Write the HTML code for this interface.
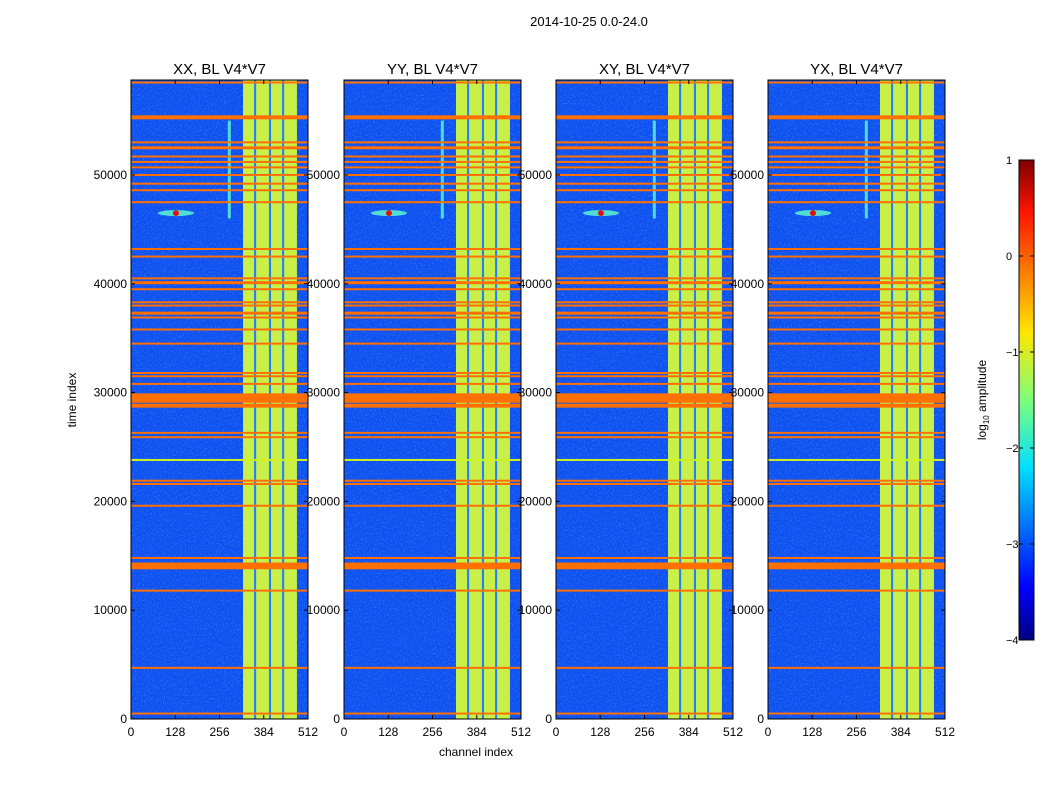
<!DOCTYPE html>
<html><head><meta charset="utf-8"><style>
body{margin:0;background:#fff;font-family:"Liberation Sans",sans-serif}
svg text{font-family:"Liberation Sans",sans-serif}
</style></head><body>
<svg id="chart" width="1050" height="800" xmlns="http://www.w3.org/2000/svg">
<defs>
<filter id="noise" x="0" y="0" width="100%" height="100%">
<feTurbulence type="fractalNoise" baseFrequency="0.9 0.6" numOctaves="2" seed="3"/>
<feColorMatrix type="matrix" values="0 0 0 0 0.1  0 0 0 0 0.7  0 0 0 0 1  0 0 0 1.6 -0.85"/>
<feComposite in2="SourceGraphic" operator="in"/>
</filter>
<linearGradient id="jet" x1="0" y1="1" x2="0" y2="0">
<stop offset="0" stop-color="#00007f"/><stop offset="0.11" stop-color="#0000ff"/>
<stop offset="0.36" stop-color="#00e0ff"/><stop offset="0.5" stop-color="#7dff7a"/>
<stop offset="0.64" stop-color="#ffe600"/><stop offset="0.89" stop-color="#ff1500"/>
<stop offset="1" stop-color="#7f0000"/></linearGradient>
</defs>
<text x="589" y="26" font-size="13" text-anchor="middle">2014-10-25 0.0-24.0</text>
<g id="panels"></g>
<text x="76" y="400" font-size="12" text-anchor="middle" transform="rotate(-90 76 400)">time index</text>
<text x="476" y="756" font-size="12" text-anchor="middle">channel index</text>
<g>
<rect x="1019" y="160" width="15" height="480" fill="url(#jet)" stroke="#000" stroke-width="1"/>
<g id="cbticks"></g>
<text x="986" y="400" font-size="12" text-anchor="middle" transform="rotate(-90 986 400)">log<tspan font-size="8" dy="3">10</tspan><tspan dy="-3"> amplitude</tspan></text>
</g>
</svg>
<script>
const titles=["XX, BL V4*V7","YY, BL V4*V7","XY, BL V4*V7","YX, BL V4*V7"];
const xTicks=[0,128,256,384,512];
const yTicks=[0,10000,20000,30000,40000,50000];
const rfiTimes=[500,4700,11800,13900,14200,14800,19600,21600,21900,25900,26300,28800,29300,29700,30800,31500,31800,34500,35800,36900,37300,38000,38300,39500,40100,40500,42500,43200,47500,48600,49200,50000,50700,51200,51700,52500,53000,55300,58500];
const rfiWidths=[2,2,2,3,4,2,2,2,2,2,2,4,5,5,2,2,2,2,2,2,3,2,2,2,3,2,2,2,2,2,2,2,2,2,2,3,2,4,2];
const bandStarts=[324,362,405,443];
const bandEnds=[356,399,437,480];
const cbTicks=[1,0,-1,-2,-3,-4];
(function(){
const panelX=[131,344,556,768], W=177, pTop=80, pBottom=719, tMax=58730;
const NS="http://www.w3.org/2000/svg";
function el(t,a,p){const e=document.createElementNS(NS,t);for(const k in a)e.setAttribute(k,a[k]);p.appendChild(e);return e;}
const g=document.getElementById('panels');
panelX.forEach((px,pi)=>{
 const xs=c=>px+c/512*W, ys=t=>pBottom-t/tMax*(pBottom-pTop);
 const pg=el('g',{},g);
 
 
 el('rect',{x:px,y:pTop,width:W,height:pBottom-pTop,fill:'#1050f0'},pg);
 el('rect',{x:px,y:pTop,width:W,height:pBottom-pTop,fill:'#00a0ff',filter:'url(#noise)',opacity:0.8},pg);
 el('rect',{x:xs(bandStarts[0]),y:pTop,width:xs(bandEnds[bandEnds.length-1])-xs(bandStarts[0]),height:pBottom-pTop,fill:'#2080ff'},pg);
 bandStarts.forEach((s,i)=>{
  const r=el('rect',{x:xs(s),y:pTop,width:xs(bandEnds[i])-xs(s),height:pBottom-pTop,fill:'#c8f048'},pg);
  
  
 });
 el('rect',{x:xs(280),y:ys(55000),width:3,height:ys(46000)-ys(55000),fill:'#60ffd0',opacity:0.8},pg);
 el('ellipse',{cx:xs(130),cy:ys(46500),rx:18,ry:3,fill:'#60ffd0',opacity:0.8},pg);
 el('circle',{cx:xs(130),cy:ys(46500),r:3,fill:'#e01010'},pg);
 rfiTimes.forEach((t,i)=>{
  const r=el('rect',{x:px,y:ys(t)-rfiWidths[i]/2,width:W,height:rfiWidths[i],fill:'#ff7000'},pg);
  
  
 });
 el('rect',{x:px,y:ys(23900),width:W,height:2,fill:'#d0f020'},pg);
 el('rect',{x:px,y:pTop,width:W,height:pBottom-pTop,fill:'none',stroke:'#000','stroke-width':1},pg);
 const tt=el('text',{x:px+W/2,y:pTop-6,'font-size':15,'text-anchor':'middle'},pg);tt.textContent=titles[pi];
 
 
 xTicks.forEach(v=>{const x=xs(v);el('line',{x1:x,x2:x,y1:pBottom,y2:pBottom-4,stroke:'#000'},pg);el('line',{x1:x,x2:x,y1:pTop,y2:pTop+4,stroke:'#000'},pg);
  const t=el('text',{x:x,y:pBottom+17,'font-size':12,'text-anchor':'middle'},pg);t.textContent=v;
  
  });
 yTicks.forEach(v=>{const y=ys(v);el('line',{x1:px,x2:px+4,y1:y,y2:y,stroke:'#000'},pg);el('line',{x1:px+W,x2:px+W-4,y1:y,y2:y,stroke:'#000'},pg);
  const t=el('text',{x:px-4,y:y+4,'font-size':12,'text-anchor':'end'},pg);t.textContent=v;
  
  });
});
const cb=document.getElementById('cbticks');
cbTicks.forEach(v=>{const y=160+(1-v)/5*480;el('line',{x1:1019,x2:1023,y1:y,y2:y,stroke:'#000'},cb);el('line',{x1:1034,x2:1030,y1:y,y2:y,stroke:'#000'},cb);
 const t=el('text',{x:1006,y:y+4,'font-size':11},cb);t.textContent=v<0?'\u2212'+(-v):v;
 
 });
})();
</script>
</body></html>
